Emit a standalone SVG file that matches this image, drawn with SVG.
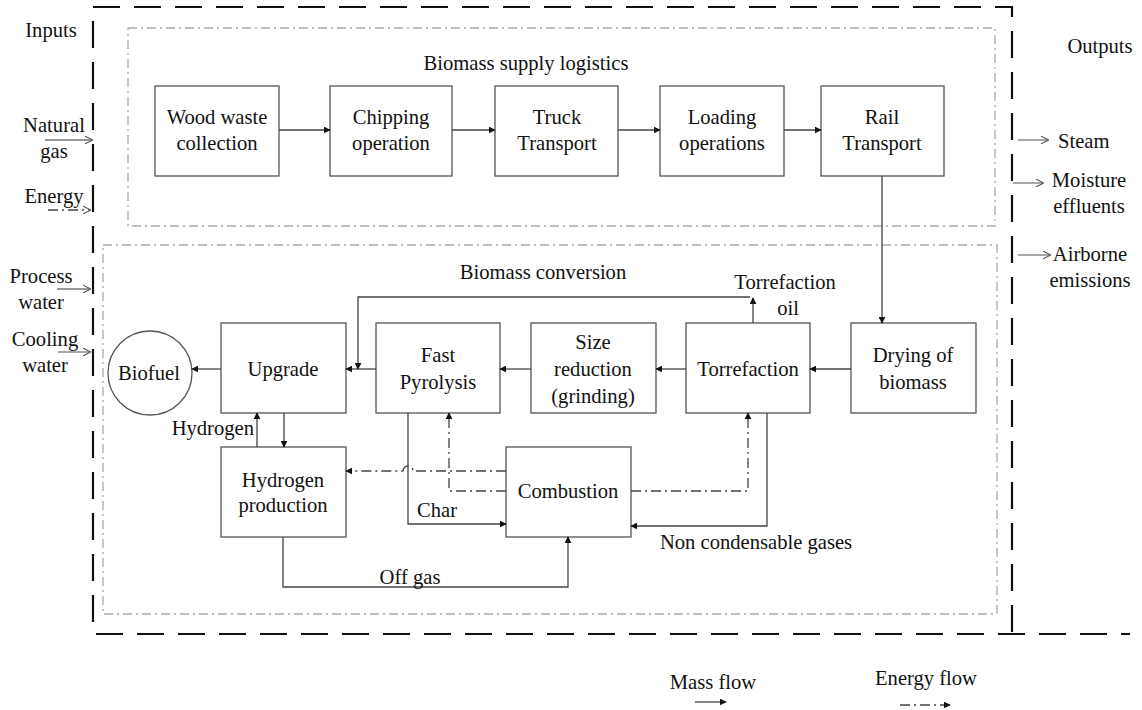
<svg xmlns="http://www.w3.org/2000/svg" width="1142" height="710" viewBox="0 0 1142 710" font-family="'Liberation Serif', 'DejaVu Serif', serif">
  <style>
    text { font-family: "Liberation Serif", "DejaVu Serif", serif; font-size: 20.6px; fill: #111; }
    .c { text-anchor: middle; }
    .box { fill: #fff; stroke: #555; stroke-width: 1.3; }
    .mass { fill: none; stroke: #444; stroke-width: 1.3; }
    .io { fill: none; stroke: #777; stroke-width: 1.3; }
    .energy { fill: none; stroke: #444; stroke-width: 1.3; stroke-dasharray: 10 4 2 4; }
    .frame { fill: none; stroke: #111; stroke-width: 2.2; stroke-dasharray: 27 14; }
    .zone { fill: none; stroke: #aaa; stroke-width: 1.3; stroke-dasharray: 9 4 2 4; }
  </style>
  <defs>
    <marker id="ah" viewBox="0 0 10 10" refX="9" refY="5" markerWidth="7" markerHeight="7" markerUnits="userSpaceOnUse" orient="auto">
      <path d="M0 0 L10 5 L0 10 Z" fill="#111"/>
    </marker>
    <marker id="ahOpen" viewBox="0 0 10 10" refX="9" refY="5" markerWidth="8" markerHeight="8" markerUnits="userSpaceOnUse" orient="auto">
      <path d="M0 0 L10 5 L0 10" fill="none" stroke="#555" stroke-width="1.3"/>
    </marker>
  </defs>

  <!-- system boundary -->
  <g id="boundary">
    <path class="frame" d="M 93 622 V 7 H 1012 V 634"/>
    <path class="frame" d="M 96 634 H 1130"/>
  </g>

  <!-- process areas -->
  <g id="zones">
    <rect class="zone" x="128" y="28" width="867" height="198"/>
    <rect class="zone" x="103" y="245" width="894" height="369"/>
    <text class="c" x="526" y="70">Biomass supply logistics</text>
    <text class="c" x="543" y="279">Biomass conversion</text>
  </g>

  <!-- supply chain nodes -->
  <g id="wood-waste">
    <rect class="box" x="155" y="86" width="124" height="90"/>
    <text class="c" x="217" y="124">Wood waste</text>
    <text class="c" x="217" y="150">collection</text>
  </g>
  <g id="chipping">
    <rect class="box" x="330" y="86" width="122" height="90"/>
    <text class="c" x="391" y="124">Chipping</text>
    <text class="c" x="391" y="150">operation</text>
  </g>
  <g id="truck">
    <rect class="box" x="495" y="86" width="123" height="90"/>
    <text class="c" x="557" y="124">Truck</text>
    <text class="c" x="557" y="150">Transport</text>
  </g>
  <g id="loading">
    <rect class="box" x="660" y="86" width="124" height="90"/>
    <text class="c" x="722" y="124">Loading</text>
    <text class="c" x="722" y="150">operations</text>
  </g>
  <g id="rail">
    <rect class="box" x="821" y="86" width="123" height="90"/>
    <text class="c" x="882" y="124">Rail</text>
    <text class="c" x="882" y="150">Transport</text>
  </g>

  <!-- conversion nodes -->
  <g id="drying">
    <rect class="box" x="851" y="323" width="125" height="90"/>
    <text class="c" x="913" y="362">Drying of</text>
    <text class="c" x="913" y="389">biomass</text>
  </g>
  <g id="torrefaction">
    <rect class="box" x="686" y="323" width="124" height="90"/>
    <text class="c" x="748" y="376">Torrefaction</text>
  </g>
  <g id="size-reduction">
    <rect class="box" x="531" y="323" width="125" height="90"/>
    <text class="c" x="593" y="349">Size</text>
    <text class="c" x="593" y="376">reduction</text>
    <text class="c" x="593" y="403">(grinding)</text>
  </g>
  <g id="fast-pyrolysis">
    <rect class="box" x="376" y="323" width="124" height="90"/>
    <text class="c" x="438" y="362">Fast</text>
    <text class="c" x="438" y="389">Pyrolysis</text>
  </g>
  <g id="upgrade">
    <rect class="box" x="221" y="323" width="125" height="90"/>
    <text class="c" x="283" y="376">Upgrade</text>
  </g>
  <g id="biofuel">
    <circle cx="150" cy="373" r="42" fill="#fff" stroke="#555" stroke-width="1.3"/>
    <text class="c" x="149" y="380">Biofuel</text>
  </g>
  <g id="hydrogen-production">
    <rect class="box" x="221" y="447" width="125" height="90"/>
    <text class="c" x="283" y="487">Hydrogen</text>
    <text class="c" x="283" y="512">production</text>
  </g>
  <g id="combustion">
    <rect class="box" x="506" y="447" width="125" height="90"/>
    <text class="c" x="568" y="498">Combustion</text>
  </g>

  <!-- flows -->
  <g id="connectors">
    <!-- supply chain -->
    <path class="mass" d="M 279 130 H 330" marker-end="url(#ah)"/>
    <path class="mass" d="M 452 130 H 495" marker-end="url(#ah)"/>
    <path class="mass" d="M 618 130 H 660" marker-end="url(#ah)"/>
    <path class="mass" d="M 784 130 H 821" marker-end="url(#ah)"/>
    <path class="mass" d="M 882 176 V 323" marker-end="url(#ah)"/>

    <!-- main conversion line -->
    <path class="mass" d="M 851 369 H 810" marker-end="url(#ah)"/>
    <path class="mass" d="M 686 369 H 656" marker-end="url(#ah)"/>
    <path class="mass" d="M 531 369 H 500" marker-end="url(#ah)"/>
    <path class="mass" d="M 376 369 H 346" marker-end="url(#ah)"/>
    <path class="mass" d="M 221 369 H 192" marker-end="url(#ah)"/>

    <!-- torrefaction oil -->
    <path class="mass" d="M 753 323 V 298" marker-end="url(#ah)"/>
    <path class="mass" d="M 750 297 H 358 V 369" marker-end="url(#ah)"/>
    <text class="c" x="785" y="289">Torrefaction</text>
    <text class="c" x="788" y="315">oil</text>

    <!-- hydrogen loop -->
    <path class="mass" d="M 284 413 V 447" marker-end="url(#ah)"/>
    <path class="mass" d="M 257 447 V 413" marker-end="url(#ah)"/>
    <text x="254" y="435" text-anchor="end">Hydrogen</text>

    <!-- char -->
    <path class="mass" d="M 408 413 V 524 H 506" marker-end="url(#ah)"/>
    <text class="c" x="437" y="517">Char</text>

    <!-- non condensable gases -->
    <path class="mass" d="M 767 413 V 526 H 631" marker-end="url(#ah)"/>
    <text class="c" x="756" y="549">Non condensable gases</text>

    <!-- off gas -->
    <path class="mass" d="M 283 537 V 587 H 568 V 537" marker-end="url(#ah)"/>
    <text class="c" x="410" y="584">Off gas</text>

    <!-- heat from combustion -->
    <path class="energy" d="M 506 471 H 413 A 5 5 0 0 0 403 471 H 346" marker-end="url(#ah)"/>
    <path class="energy" d="M 506 491 H 449 V 413" marker-end="url(#ah)"/>
    <path class="energy" d="M 631 491 H 748 V 413" marker-end="url(#ah)"/>
  </g>

  <!-- inputs -->
  <g id="inputs">
    <text class="c" x="51" y="37">Inputs</text>
    <text class="c" x="54" y="132">Natural</text>
    <text class="c" x="54" y="158">gas</text>
    <path class="io" d="M 45 140 H 92" marker-end="url(#ahOpen)"/>
    <text class="c" x="54" y="203">Energy</text>
    <path class="energy" d="M 48 210 H 90" stroke="#666" marker-end="url(#ahOpen)"/>
    <text class="c" x="41" y="283">Process</text>
    <text class="c" x="41" y="309">water</text>
    <path class="io" d="M 57 289 H 90" marker-end="url(#ahOpen)"/>
    <text class="c" x="45" y="346">Cooling</text>
    <text class="c" x="45" y="372">water</text>
    <path class="io" d="M 58 352 H 90" marker-end="url(#ahOpen)"/>
  </g>

  <!-- outputs -->
  <g id="outputs">
    <text class="c" x="1100" y="53">Outputs</text>
    <path class="io" d="M 1018 140 H 1048" marker-end="url(#ahOpen)"/>
    <text x="1058" y="148">Steam</text>
    <path class="io" d="M 1013 183 H 1043" marker-end="url(#ahOpen)"/>
    <text class="c" x="1089" y="187">Moisture</text>
    <text class="c" x="1089" y="213">effluents</text>
    <path class="io" d="M 1018 255 H 1050" marker-end="url(#ahOpen)"/>
    <text class="c" x="1090" y="261">Airborne</text>
    <text class="c" x="1090" y="287">emissions</text>
  </g>

  <!-- legend -->
  <g id="legend">
    <text class="c" x="713" y="689">Mass flow</text>
    <path class="mass" d="M 695 702 H 726" marker-end="url(#ah)"/>
    <text class="c" x="926" y="685">Energy flow</text>
    <path class="energy" d="M 900 705 H 950" marker-end="url(#ah)"/>
  </g>
</svg>
